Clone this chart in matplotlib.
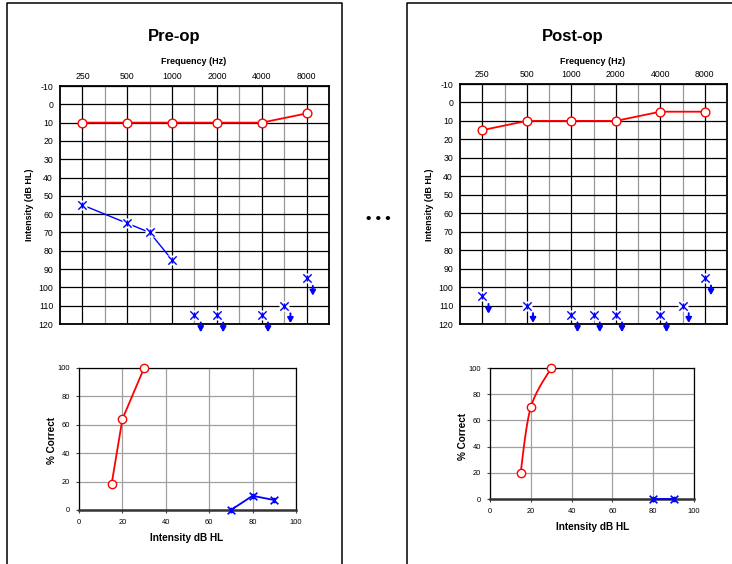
import numpy as np
import matplotlib
matplotlib.use('Agg')
import matplotlib.pyplot as plt
from matplotlib.lines import Line2D
from matplotlib.path import Path
from matplotlib.ticker import NullFormatter
from matplotlib.transforms import offset_copy

plt.rcParams['font.family'] = ['Liberation Sans', 'DejaVu Sans']

# ---------------- data ----------------
freq_ticks = [250, 500, 1000, 2000, 4000, 8000]
freq_labels = ['250', '500', '1000', '2000', '4000', '8000']
half_octaves = [354, 750, 1500, 3000, 6000]
db_ticks = list(range(-10, 121, 10))

pre_right_freq = [250, 500, 1000, 2000, 4000, 8000]
pre_right_db = [10, 10, 10, 10, 10, 5]
pre_left_freq = [250, 500, 750, 1000]
pre_left_db = [55, 65, 70, 85]
pre_nr_freq = [1500, 2000, 4000, 6000, 8000]
pre_nr_db = [115, 115, 115, 110, 95]

post_right_freq = [250, 500, 1000, 2000, 4000, 8000]
post_right_db = [15, 10, 10, 10, 5, 5]
post_left_freq = []
post_left_db = []
post_nr_freq = [250, 500, 1000, 1500, 2000, 4000, 6000, 8000]
post_nr_db = [105, 110, 115, 115, 115, 115, 110, 95]

speech_ticks = [0, 20, 40, 60, 80, 100]
pre_sp_right_db = [15, 20, 30]
pre_sp_right_pct = [18, 64, 100]
pre_sp_left_db = [70, 80, 90]
pre_sp_left_pct = [0, 10, 7]
post_sp_right_db = [15, 20, 30]
post_sp_right_pct = [20, 70, 100]
post_sp_left_db = [80, 90]
post_sp_left_pct = [0, 0]

# audiometer chart layout: octave and half-octave columns
knot_freqs = [125, 250, 354, 500, 750, 1000, 1500, 2000, 3000, 4000, 6000, 8000, 16000]
knot_pos = [-1, 0, 0.5, 1, 1.5, 2, 2.5, 3, 3.5, 4, 4.5, 5, 6]
knot_log = np.log2(knot_freqs)


def f_fwd(f):
    f = np.asarray(f, dtype=float)
    return np.interp(np.log2(np.clip(f, 1e-6, None)), knot_log, knot_pos)


def f_inv(p):
    return 2 ** np.interp(np.asarray(p, dtype=float), knot_pos, knot_log)


# ---------------- figure ----------------
W, H = 732, 564
fig = plt.figure(figsize=(W / 100, H / 100), dpi=100)


def fx(px):
    return px / W


def fy(py):
    return 1 - py / H


def rect(x0, y0, x1, y1):
    return [fx(x0), fy(y1), fx(x1) - fx(x0), fy(y0) - fy(y1)]


RED = '#ff0000'
BLUE = '#0000ff'

star = Path([(-1, -1), (1, 1), (-1, 1), (1, -1), (0, -0.75), (0, 0.75)],
            [Path.MOVETO, Path.LINETO, Path.MOVETO, Path.LINETO,
             Path.MOVETO, Path.LINETO])


def smooth(xs, ys, n=30):
    pts = np.column_stack([xs, ys]).astype(float)
    out = [pts[0]]
    for i in range(len(pts) - 1):
        p0 = pts[i - 1] if i > 0 else pts[i]
        p1 = pts[i]
        p2 = pts[i + 1]
        p3 = pts[i + 2] if i + 2 < len(pts) else pts[i + 1]
        c1 = p1 + (p2 - p0) / 6
        c2 = p2 - (p3 - p1) / 6
        t = np.linspace(0, 1, n)[1:, None]
        seg = ((1 - t) ** 3) * p1 + 3 * ((1 - t) ** 2) * t * c1 + 3 * (1 - t) * t ** 2 * c2 + t ** 3 * p2
        out.extend(seg)
    out = np.array(out)
    return out[:, 0], out[:, 1]


def audiogram(r, rfreq, rdb, lfreq, ldb, nrfreq, nrdb):
    ax = fig.add_axes(r)
    ax.set_xscale('function', functions=(f_fwd, f_inv))
    ax.set_xlim(f_inv(-0.5), f_inv(5.5))
    ax.set_ylim(120, -10)
    ax.xaxis.tick_top()
    ax.set_xticks(freq_ticks)
    ax.set_xticklabels(freq_labels)
    ax.set_xticks(half_octaves, minor=True)
    ax.xaxis.set_minor_formatter(NullFormatter())
    ax.set_yticks(db_ticks)
    ax.set_yticklabels([str(v) for v in db_ticks])
    ax.tick_params(axis='both', which='both', length=0)
    ax.tick_params(axis='x', pad=3.5, labelsize=6.3)
    ax.tick_params(axis='y', pad=5, labelsize=6.3)
    ax.grid(True, which='major', axis='both', color='black', lw=0.9)
    ax.grid(True, which='minor', axis='x', color='#999999', lw=0.9)
    ax.set_axisbelow(True)
    for s in ax.spines.values():
        s.set_linewidth(1.3)

    if lfreq:
        ax.plot(lfreq, ldb, color=BLUE, lw=1.0, zorder=4)
    xf = list(lfreq) + list(nrfreq)
    xd = list(ldb) + list(nrdb)
    ax.plot(xf, xd, ls='none', marker='s', ms=7.5, mfc='white', mec='none',
            zorder=5, clip_on=False)
    ax.plot(xf, xd, ls='none', marker=star, ms=6.0, color=BLUE, mew=1.0,
            zorder=6, clip_on=False)
    ax.plot(rfreq, rdb, color=RED, lw=1.3, marker='o', ms=6.3, mfc='white',
            mec=RED, mew=1.0, zorder=7, clip_on=False)
    tr = offset_copy(ax.transData, fig=fig, x=4.5, y=-12.5, units='points')
    for f, d in zip(nrfreq, nrdb):
        ax.annotate('', xy=(f, d), xycoords=tr, xytext=(0, 7),
                    textcoords='offset points', annotation_clip=False,
                    arrowprops=dict(arrowstyle='-|>,head_length=0.3,head_width=0.17',
                                    color=BLUE, lw=1.4, shrinkA=0, shrinkB=0))
    return ax


def speech(r, rx, ry, lx, ly, smooth_red):
    ax = fig.add_axes(r)
    ax.set_xlim(0, 100)
    ax.set_ylim(0, 100)
    ax.set_xticks(speech_ticks)
    ax.set_yticks(speech_ticks)
    ax.tick_params(axis='both', length=2, width=0.8, labelsize=5.4, color='#444444')
    ax.tick_params(axis='x', pad=4.5)
    ax.tick_params(axis='y', pad=4.5)
    ax.grid(True, color='#a0a0a0', lw=0.9)
    ax.set_axisbelow(True)
    for s in ax.spines.values():
        s.set_linewidth(0.9)
    ax.spines['bottom'].set_linewidth(1.8)
    ax.spines['bottom'].set_color('#333333')
    if smooth_red:
        sx, sy = smooth(rx, ry)
        ax.plot(sx, sy, color=RED, lw=1.3, zorder=4, clip_on=False)
    else:
        ax.plot(rx, ry, color=RED, lw=1.3, zorder=4, clip_on=False)
    ax.plot(rx, ry, ls='none', marker='o', ms=6, mfc='white', mec=RED, mew=1.0,
            zorder=6, clip_on=False)
    ax.plot(lx, ly, color=BLUE, lw=1.3, zorder=4, clip_on=False)
    ax.plot(lx, ly, ls='none', marker=star, ms=5.5, color=BLUE, mew=1.2,
            zorder=6, clip_on=False)
    return ax


audiogram(rect(60, 86, 329, 324), pre_right_freq, pre_right_db,
          pre_left_freq, pre_left_db, pre_nr_freq, pre_nr_db)
audiogram(rect(460, 84, 727, 324), post_right_freq, post_right_db,
          post_left_freq, post_left_db, post_nr_freq, post_nr_db)
speech(rect(79, 368, 296, 510), pre_sp_right_db, pre_sp_right_pct,
       pre_sp_left_db, pre_sp_left_pct, False)
speech(rect(490, 368, 694, 499), post_sp_right_db, post_sp_right_pct,
       post_sp_left_db, post_sp_left_pct, True)

# panel borders
for xs, ys in [([7, 7, 342, 342], [570, 3, 3, 570]),
               ([407, 407, 740], [570, 3, 3])]:
    fig.add_artist(Line2D([fx(v) for v in xs], [fy(v) for v in ys],
                          color='black', lw=1.1, transform=fig.transFigure))

# titles and labels
fig.text(fx(174), fy(37), 'Pre-op', fontsize=12, fontweight='bold', ha='center', va='center')
fig.text(fx(573), fy(37), 'Post-op', fontsize=12, fontweight='bold', ha='center', va='center')
fig.text(fx(194), fy(62), 'Frequency (Hz)', fontsize=6.5, fontweight='bold', ha='center', va='center')
fig.text(fx(593), fy(62), 'Frequency (Hz)', fontsize=6.5, fontweight='bold', ha='center', va='center')
fig.text(fx(29), fy(205), 'Intensity (dB HL)', fontsize=6.5, fontweight='bold',
         ha='center', va='center', rotation=90)
fig.text(fx(429), fy(205), 'Intensity (dB HL)', fontsize=6.5, fontweight='bold',
         ha='center', va='center', rotation=90)
fig.text(fx(187), fy(538), 'Intensity dB HL', fontsize=7.2, fontweight='bold', ha='center', va='center')
fig.text(fx(593), fy(527), 'Intensity dB HL', fontsize=7.2, fontweight='bold', ha='center', va='center')
fig.text(fx(52), fy(440), '% Correct', fontsize=7.2, fontweight='bold',
         ha='center', va='center', rotation=90)
fig.text(fx(463), fy(437), '% Correct', fontsize=7.2, fontweight='bold',
         ha='center', va='center', rotation=90)
fig.text(fx(378), fy(219), '\u2022 \u2022 \u2022', fontsize=11, fontweight='bold',
         ha='center', va='center')

fig.savefig('out.png', dpi=100)
